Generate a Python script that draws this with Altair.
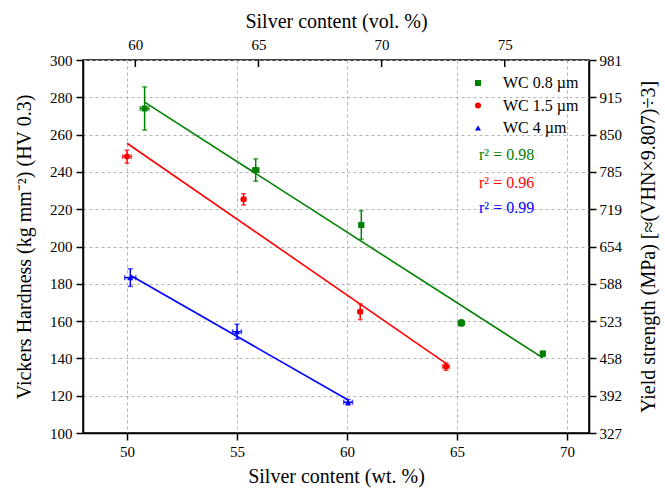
import altair as alt
import pandas as pd

FONT = "Liberation Serif"

series_names = ["WC 0.8 µm", "WC 1.5 µm", "WC 4 µm"]
series_colors = ["#008000", "#ff0000", "#0000ff"]
series_shapes = ["square", "circle", "triangle-up"]

# WC 0.8 µm
wc08_wt = [50.8, 55.85, 60.65, 65.2, 68.9]
wc08_hv = [274.0, 241.0, 211.5, 159.0, 142.5]
wc08_hv_err = [11.6, 6.0, 7.7, 0.8, 1.5]
wc08_wt_err = [0.2, 0.15, 0.1, 0.0, 0.1]
wc08_round = [False, False, False, True, False]

# WC 1.5 µm
wc15_wt = [50.0, 55.3, 60.6, 64.5]
wc15_hv = [248.2, 225.3, 165.0, 135.6]
wc15_hv_err = [3.5, 3.0, 4.2, 2.0]
wc15_wt_err = [0.2, 0.1, 0.1, 0.15]
wc15_round = [False, False, False, False]

# WC 4 µm
wc4_wt = [50.15, 55.0, 60.05]
wc4_hv = [183.3, 154.3, 116.5]
wc4_hv_err = [4.7, 4.0, 1.5]
wc4_wt_err = [0.25, 0.2, 0.2]
wc4_round = [False, False, False]

# r^2 annotations
r2_labels = ["r² = 0.98", "r² = 0.96", "r² = 0.99"]
r2_wt = [66.0, 66.0, 66.0]
r2_hv = [249.0, 234.3, 220.6]

# axes
wt_ticks = [50, 55, 60, 65, 70]
vol_ticks = [60, 65, 70, 75]
hv_ticks = [100, 120, 140, 160, 180, 200, 220, 240, 260, 280, 300]
yield_labels = [327, 392, 458, 523, 588, 654, 719, 785, 850, 915, 981]

rows = []
for name, wt, hv, he, we, rd in [
    (series_names[0], wc08_wt, wc08_hv, wc08_hv_err, wc08_wt_err, wc08_round),
    (series_names[1], wc15_wt, wc15_hv, wc15_hv_err, wc15_wt_err, wc15_round),
    (series_names[2], wc4_wt, wc4_hv, wc4_hv_err, wc4_wt_err, wc4_round),
]:
    for a, b, c, d, r in zip(wt, hv, he, we, rd):
        rows.append(dict(series=name, wt=a, hv=b, hv_lo=b - c, hv_hi=b + c,
                         wt_lo=a - d, wt_hi=a + d, hv_err=c, wt_err=d, round=r))
df = pd.DataFrame(rows)

r2_df = pd.DataFrame(dict(label=r2_labels, wt=r2_wt, hv=r2_hv, series=series_names))
vol_df = pd.DataFrame(dict(vol=vol_ticks))

xs = alt.Scale(domain=[48, 71], nice=False, zero=False)
ys = alt.Scale(domain=[100, 300], nice=False, zero=False)
cscale = alt.Scale(domain=series_names, range=series_colors)
sscale = alt.Scale(domain=series_names, range=series_shapes)
# same mapping, listed in other orders so these (legend-less) scales stay separate
fscale = alt.Scale(domain=series_names[::-1], range=series_colors[::-1])
order2 = [1, 2, 0]
kscale = alt.Scale(domain=[series_names[i] for i in order2],
                   range=[series_colors[i] for i in order2])

x_axis = alt.Axis(orient="bottom", values=wt_ticks, grid=True, gridDash=[3, 3],
                  gridColor="#b4b4b4", gridWidth=1, tickSize=7, labelPadding=4,
                  titlePadding=7, format="d")
y_axis = alt.Axis(orient="left", values=hv_ticks, grid=True, gridDash=[3, 3],
                  gridColor="#b4b4b4", gridWidth=1, tickSize=7, labelPadding=4,
                  titlePadding=15, format="d")

XT = "Silver content (wt. %)"
YT = "Vickers Hardness (kg mm⁻²) (HV 0.3)"


def X(field):
    return alt.X(f"{field}:Q", scale=xs, axis=x_axis, title=XT)


def Y(field):
    return alt.Y(f"{field}:Q", scale=ys, axis=y_axis, title=YT)


stroke_nl = alt.Stroke("series:N", scale=kscale, legend=None)
fill_nl = alt.Fill("series:N", scale=fscale, legend=None)

base = alt.Chart(df)

fit = base.transform_regression("wt", "hv", groupby=["series"]).mark_line(
    strokeWidth=1.6).encode(x=X("wt"), y=Y("hv"), stroke=stroke_nl)

vbar = base.transform_filter("datum.hv_err > 0").mark_rule(strokeWidth=1.5).encode(
    x=X("wt"), y=Y("hv_lo"), y2="hv_hi", stroke=stroke_nl)
vcap_lo = base.transform_filter("datum.hv_err > 0").mark_tick(
    orient="horizontal", size=5, thickness=1.5).encode(x=X("wt"), y=Y("hv_lo"), fill=fill_nl)
vcap_hi = base.transform_filter("datum.hv_err > 0").mark_tick(
    orient="horizontal", size=5, thickness=1.5).encode(x=X("wt"), y=Y("hv_hi"), fill=fill_nl)

hbar = base.transform_filter("datum.wt_err > 0").mark_rule(strokeWidth=1.5).encode(
    x=X("wt_lo"), x2="wt_hi", y=Y("hv"), stroke=stroke_nl)
hcap_lo = base.transform_filter("datum.wt_err > 0").mark_tick(
    orient="vertical", size=5, thickness=1.5).encode(x=X("wt_lo"), y=Y("hv"), fill=fill_nl)
hcap_hi = base.transform_filter("datum.wt_err > 0").mark_tick(
    orient="vertical", size=5, thickness=1.5).encode(x=X("wt_hi"), y=Y("hv"), fill=fill_nl)

legend = alt.Legend(orient="none", legendX=387, legendY=15, title=None,
                    labelFont=FONT, labelFontSize=16, labelColor="black",
                    symbolSize=36, rowPadding=6.5, labelOffset=17,
                    symbolStrokeWidth=0)

pts = base.transform_filter("!datum.round").mark_point(filled=True, opacity=1, size=36).encode(
    x=X("wt"), y=Y("hv"),
    color=alt.Color("series:N", scale=cscale, legend=legend),
    shape=alt.Shape("series:N", scale=sscale, legend=legend),
)
round_pts = base.transform_filter("datum.round").mark_point(
    filled=True, opacity=1, shape="circle", size=60).encode(
    x=X("wt"), y=Y("hv"), fill=fill_nl)

r2 = alt.Chart(r2_df).mark_text(align="left", baseline="middle", font=FONT,
                                fontSize=16).encode(
    x=X("wt"), y=Y("hv"), text="label:N", fill=fill_nl)

main = alt.layer(fit, vbar, vcap_lo, vcap_hi, hbar, hcap_lo, hcap_hi, pts, round_pts, r2)

label_expr = "[" + ",".join(str(v) for v in yield_labels) + "][indexof([" + \
    ",".join(str(v) for v in hv_ticks) + "], datum.value)]"

right = alt.Chart(df).mark_point(opacity=0).encode(
    x=alt.X("wt:Q", scale=xs, axis=None),
    y=alt.Y("hv:Q", scale=ys, title="Yield strength (MPa) [≈(VHN×9.807)÷3]",
            axis=alt.Axis(orient="right", values=hv_ticks, grid=False, tickSize=7,
                          labelPadding=3, labelExpr=label_expr, titleAngle=270,
                          titlePadding=37)),
)

top = alt.Chart(vol_df).mark_rule(color="black", strokeWidth=1.5).encode(
    x=alt.X("vol:Q", scale=alt.Scale(domain=[57.875, 78.42], nice=False, zero=False),
            title="Silver content (vol. %)",
            axis=alt.Axis(orient="top", values=vol_ticks, grid=False, ticks=False,
                          domain=False, labelPadding=8, titlePadding=6, format="d")),
    y=alt.value(0),
    y2=alt.value(7),
)

chart = alt.layer(main, right, top).resolve_scale(
    x="independent", y="independent"
).properties(
    width=506, height=373, autosize="none",
    padding={"left": 83, "top": 60, "right": 76, "bottom": 63},
).configure_view(stroke="black", strokeWidth=1.5).configure_axis(
    labelFont=FONT, titleFont=FONT, labelFontSize=15, titleFontSize=20,
    titleFontWeight="normal", labelColor="black", titleColor="black",
    domainColor="black", domainWidth=1.5, tickColor="black", tickWidth=1.5,
)

chart.save("out.html", embed_options={"renderer": "svg", "actions": False})
